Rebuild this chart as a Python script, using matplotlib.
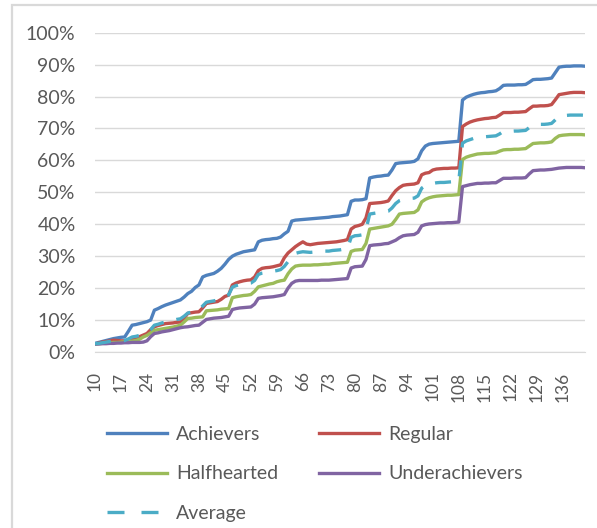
import matplotlib
matplotlib.use("Agg")
import matplotlib.pyplot as plt
from matplotlib.patches import Rectangle
from matplotlib.lines import Line2D
from matplotlib.ticker import PercentFormatter
import numpy as np

plt.rcParams['font.family'] = ['Lato', 'DejaVu Sans']

# day numbers on the category axis
days = list(range(10, 143))
tick_days = list(range(10, 137, 7))

achievers = [
    2.7, 3.0, 3.3, 3.6, 3.9, 4.2, 4.4, 4.6, 4.7, 6.5,
    8.4, 8.6, 8.9, 9.2, 9.5, 10.0, 13.1, 13.6, 14.2, 14.7,
    15.1, 15.5, 15.9, 16.3, 17.2, 18.3, 19.0, 20.2, 21.0, 23.5,
    24.0, 24.3, 24.6, 25.3, 26.2, 27.5, 29.0, 30.0, 30.6, 31.0,
    31.4, 31.6, 31.8, 32.0, 34.5, 35.0, 35.2, 35.3, 35.5, 35.6,
    36.0, 37.0, 37.8, 41.0, 41.3, 41.4, 41.5, 41.6, 41.7, 41.8,
    41.9, 42.0, 42.1, 42.2, 42.4, 42.5, 42.6, 42.8, 43.0, 47.2,
    47.6, 47.6, 47.7, 48.0, 54.5, 54.8, 55.0, 55.1, 55.3, 55.4,
    57.0, 59.0, 59.2, 59.3, 59.4, 59.5, 59.7, 60.5, 63.0, 64.5,
    65.1, 65.3, 65.4, 65.5, 65.6, 65.7, 65.8, 65.9, 66.0, 78.9,
    79.8, 80.3, 80.7, 81.0, 81.2, 81.3, 81.5, 81.6, 81.8, 82.5,
    83.5, 83.6, 83.6, 83.6, 83.7, 83.7, 83.8, 84.5, 85.3, 85.4,
    85.4, 85.5, 85.6, 85.8, 87.5, 89.2, 89.4, 89.5, 89.5, 89.6,
    89.6, 89.6, 89.5,
]

regular = [
    2.5, 2.8, 3.1, 3.3, 3.5, 3.7, 3.6, 3.5, 3.5, 3.6,
    3.8, 4.2, 4.8, 5.3, 5.8, 7.0, 7.9, 8.3, 8.6, 8.9,
    9.0, 9.1, 9.3, 9.4, 10.5, 12.1, 12.3, 12.5, 12.6, 13.8,
    15.2, 15.4, 15.6, 15.8, 16.5, 17.4, 17.8, 21.0, 21.6, 22.0,
    22.3, 22.5, 22.6, 23.5, 25.5, 26.2, 26.4, 26.5, 26.7, 27.0,
    27.3, 29.5, 31.0, 32.0, 33.0, 33.8, 34.5, 33.8, 33.6, 33.8,
    34.0, 34.1, 34.2, 34.3, 34.4, 34.5, 34.7, 34.9, 35.2, 38.5,
    39.3, 39.6, 40.0, 42.0, 46.5, 46.6, 46.7, 46.8, 47.0, 47.3,
    49.0, 50.5, 51.5, 52.2, 52.4, 52.5, 52.6, 53.0, 55.5, 56.0,
    56.2, 57.0, 57.3, 57.4, 57.5, 57.5, 57.6, 57.6, 57.7, 70.6,
    71.4, 72.0, 72.4, 72.7, 72.9, 73.1, 73.2, 73.4, 73.5, 74.2,
    75.0, 75.0, 75.0, 75.1, 75.1, 75.2, 75.3, 76.2, 77.0, 77.0,
    77.1, 77.1, 77.2, 77.5, 79.0, 80.6, 80.8, 81.0, 81.2, 81.3,
    81.3, 81.3, 81.2,
]

halfhearted = [
    2.5, 2.6, 2.7, 2.8, 2.9, 3.0, 3.0, 3.1, 3.2, 3.3,
    3.4, 3.6, 4.0, 4.7, 5.2, 6.0, 6.8, 7.0, 7.2, 7.4,
    7.6, 7.8, 8.1, 8.4, 9.4, 10.5, 10.6, 10.8, 10.9, 11.0,
    12.9, 13.0, 13.1, 13.2, 13.4, 13.5, 13.6, 17.0, 17.3, 17.5,
    17.7, 17.8, 18.0, 19.0, 20.4, 20.7, 21.0, 21.3, 21.5, 22.0,
    22.3, 22.5, 24.5, 26.0, 26.9, 27.1, 27.2, 27.2, 27.2, 27.3,
    27.3, 27.4, 27.5, 27.5, 27.7, 27.8, 27.9, 28.0, 28.1, 31.5,
    31.9, 32.0, 32.1, 34.0, 38.5, 38.7, 38.9, 39.1, 39.3, 39.5,
    40.0, 41.5, 43.2, 43.4, 43.5, 43.6, 43.7, 44.5, 47.0, 47.8,
    48.3, 48.6, 48.8, 48.9, 49.0, 49.1, 49.1, 49.2, 49.3, 60.3,
    61.0, 61.4, 61.7, 62.0, 62.1, 62.2, 62.2, 62.3, 62.4, 62.9,
    63.3, 63.4, 63.4, 63.5, 63.5, 63.6, 63.7, 64.5, 65.3, 65.4,
    65.5, 65.5, 65.6, 65.8, 66.9, 67.7, 67.9, 68.0, 68.1, 68.1,
    68.1, 68.1, 68.0,
]

underachievers = [
    2.5, 2.5, 2.6, 2.6, 2.7, 2.7, 2.8, 2.8, 2.9, 2.9,
    3.0, 3.0, 3.0, 3.1, 3.5, 4.8, 5.8, 6.0, 6.3, 6.5,
    6.7, 7.0, 7.3, 7.6, 7.8, 7.9, 8.1, 8.3, 8.4, 9.3,
    10.2, 10.4, 10.6, 10.7, 10.8, 11.0, 11.2, 13.3, 13.6, 13.8,
    13.9, 14.0, 14.1, 15.0, 16.8, 17.0, 17.1, 17.2, 17.3, 17.5,
    17.7, 18.0, 20.0, 21.5, 22.2, 22.4, 22.4, 22.4, 22.4, 22.4,
    22.4, 22.5, 22.5, 22.5, 22.6, 22.7, 22.8, 22.9, 23.0, 26.3,
    26.7, 26.8, 26.9, 29.0, 33.3, 33.5, 33.6, 33.7, 33.9, 34.0,
    34.5, 35.0, 35.8, 36.4, 36.6, 36.7, 36.8, 37.5, 39.5, 39.9,
    40.1, 40.2, 40.3, 40.4, 40.4, 40.5, 40.5, 40.6, 40.7, 51.8,
    52.1, 52.4, 52.6, 52.8, 52.8, 52.9, 52.9, 53.0, 53.0, 53.7,
    54.4, 54.4, 54.4, 54.5, 54.5, 54.5, 54.6, 55.8, 56.8, 56.9,
    57.0, 57.0, 57.1, 57.2, 57.4, 57.6, 57.7, 57.8, 57.8, 57.8,
    57.8, 57.8, 57.7,
]

average = [
    2.6, 2.7, 2.9, 3.1, 3.3, 3.4, 3.5, 3.5, 3.6, 4.1,
    4.7, 4.9, 5.2, 5.6, 6.0, 7.0, 8.4, 8.7, 9.1, 9.4,
    9.6, 9.9, 10.2, 10.4, 11.2, 12.2, 12.5, 13.0, 13.2, 14.4,
    15.6, 15.8, 16.0, 16.3, 16.7, 17.4, 17.9, 20.3, 20.8, 21.1,
    21.3, 21.5, 21.6, 22.4, 24.3, 24.7, 24.9, 25.1, 25.3, 25.5,
    25.8, 26.8, 28.3, 30.1, 30.9, 31.2, 31.4, 31.3, 31.2, 31.3,
    31.4, 31.5, 31.6, 31.6, 31.8, 31.9, 32.0, 32.2, 32.3, 35.9,
    36.4, 36.5, 36.7, 38.3, 43.2, 43.4, 43.6, 43.7, 43.9, 44.1,
    45.1, 46.5, 47.4, 47.8, 48.0, 48.1, 48.2, 48.9, 51.3, 52.1,
    52.4, 52.8, 53.0, 53.1, 53.1, 53.2, 53.3, 53.3, 53.4, 65.4,
    66.1, 66.5, 66.9, 67.1, 67.3, 67.4, 67.5, 67.6, 67.7, 68.3,
    69.1, 69.1, 69.1, 69.2, 69.2, 69.3, 69.4, 70.3, 71.1, 71.2,
    71.3, 71.3, 71.4, 71.6, 72.7, 73.8, 74.0, 74.1, 74.2, 74.2,
    74.2, 74.2, 74.1,
]

W, H = 597, 528
fig = plt.figure(figsize=(W / 100, H / 100), dpi=100)

# light chart-area border (left and top visible)
fig.patches.append(Rectangle((12 / W, -0.1), 1.2, 1.1 - 5 / H, transform=fig.transFigure,
                             fill=False, edgecolor='#d9d9d9', linewidth=1.6))

ax = fig.add_axes([95 / W, 1 - 352 / H, 490 / W, (352 - 32.7) / H])

lw = 2.4
l_ach, = ax.plot(days, achievers, color='#4F81BD', lw=lw, label='Achievers')
l_reg, = ax.plot(days, regular, color='#C0504D', lw=lw, label='Regular')
l_half, = ax.plot(days, halfhearted, color='#9BBB59', lw=lw, label='Halfhearted')
l_under, = ax.plot(days, underachievers, color='#8064A2', lw=lw, label='Underachievers')
l_avg, = ax.plot(days, average, color='#4BACC6', lw=lw, dashes=(4.8, 3.9), label='Average')

ax.set_xlim(10, 142)
ax.set_ylim(0, 100)
ax.set_yticks(range(0, 101, 10))
ax.yaxis.set_major_formatter(PercentFormatter(100, decimals=0))
ax.set_xticks(tick_days)
ax.set_xticklabels([str(d) for d in tick_days], rotation=90)

ax.grid(axis='y', color='#d9d9d9', lw=1)
ax.set_axisbelow(True)
for s in ['top', 'right', 'left']:
    ax.spines[s].set_visible(False)
ax.spines['bottom'].set_color('#d9d9d9')
ax.tick_params(axis='y', length=0, pad=14, labelsize=14, labelcolor='#595959')
ax.tick_params(axis='x', length=0, pad=14, labelsize=12.5, labelcolor='#595959')

# legend handle for the dashed series uses longer dashes, as in the original
avg_handle = Line2D([], [], color='#4BACC6', lw=lw, dashes=(5.1, 5.1))
handles = [l_ach, l_half, avg_handle, l_reg, l_under]
labels = ['Achievers', 'Halfhearted', 'Average', 'Regular', 'Underachievers']
fig.legend(handles, labels, ncol=2, loc='upper left',
           bbox_to_anchor=(107 / W, 1 - 426 / H), frameon=False, fontsize=14,
           labelcolor='#595959', handlelength=3.1, handletextpad=0.46,
           columnspacing=2.1, labelspacing=1.15, borderpad=0, borderaxespad=0)

fig.savefig('out.png', dpi=100)
